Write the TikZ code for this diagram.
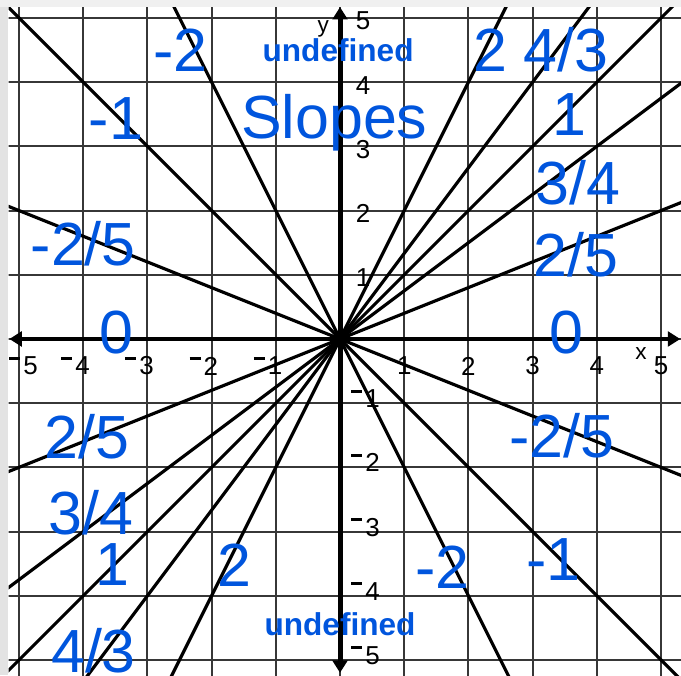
\documentclass[tikz,border=0pt]{standalone}
\usepackage{fontspec}
\setmainfont{Liberation Sans}
\usepackage{xcolor}
\usepackage{tikz}
\usetikzlibrary{arrows.meta}
\definecolor{slopeblue}{RGB}{0,85,221}
\definecolor{gridgray}{RGB}{55,55,55}
\tikzstyle{gridline} = [draw=gridgray, line width=0.9pt]
\tikzstyle{axis} = [draw, line width=2.2pt, {Triangle[width=6.5pt,length=5.5pt]}-{Triangle[width=6.5pt,length=5.5pt]}]
\tikzstyle{slopeline} = [draw, line width=1.4pt]
\tikzstyle{slopelabel} = [text=slopeblue, inner sep=0pt, font=\fontsize{27}{30}\selectfont]
\tikzstyle{undeflabel} = [text=slopeblue, inner sep=0pt, font=\fontsize{14}{16}\selectfont\bfseries]
\tikzstyle{ticklabel} = [inner sep=0pt, font=\fontsize{11.5}{12}\selectfont]
\newcommand{\tickneg}[1]{\rule[0.58em]{0.42em}{0.11em}\kern0.12em#1}

\begin{document}
\begin{tikzpicture}[x=1cm, y=1cm]
	% frame
	\useasboundingbox (-5.296,-5.234) rectangle (5.311,5.280);
	\fill[gray!22] (-5.296,-5.234) rectangle (-5.17,5.280);
	\fill[gray!12] (-5.296,5.17) rectangle (5.311,5.280);
	\begin{scope}
		\clip (-5.16,-5.234) rectangle (5.311,5.17);
		% grid
		\foreach \k in {-5,...,5} {
			\draw[gridline] (\k,-5.4) -- (\k,5.4);
			\draw[gridline] (-5.4,\k) -- (5.4,\k);
		}
		% lines through the origin
		\foreach \m in {2/5,3/4,1,4/3,2,-2/5,-1,-2}
			\draw[slopeline] (-6,{-6*(\m)}) -- (6,{6*(\m)});
	\end{scope}
	% axes
	\draw[axis] (-5.15,0) -- (5.30,0);
	\draw[axis] (0,-5.20) -- (0,5.17);
	\node[ticklabel, font=\fontsize{10}{12}\selectfont] (xname) at (4.69,-0.22) {x};
	\node[ticklabel, font=\fontsize{10}{12}\selectfont] (yname) at (-0.26,4.83) {y};
	% tick labels
	\foreach \k in {1,...,5} {
		\node[ticklabel] (xpos\k) at (\k,-0.42) {\k};
		\node[ticklabel] (ypos\k) at (0.36,\k-0.05) {\k};
		\node[ticklabel] (yneg\k) at (0.40,-\k+0.07) {\tickneg{\k}};
	}
	\foreach \k/\xx in {1/-1.12,2/-2.12,3/-3.12,4/-4.12,5/-4.93}
		\node[ticklabel] (xneg\k) at (\xx,-0.42) {\tickneg{\k}};

	% slope labels
	\node[undeflabel] (undefTop) at (-0.03,4.50) {undefined};
	\node[undeflabel] (undefBot) at (0,-4.45) {undefined};
	\node[slopelabel, anchor=base] (title) at (-0.09,3.12) {Slopes};

	\node[slopelabel] (ulTwo) at (-2.49,4.50) {-2};
	\node[slopelabel] (ulOne) at (-3.49,3.44) {-1};
	\node[slopelabel] (ulTwoFifths) at (-4.00,1.48) {-2/5};
	\node[slopelabel] (leftZero) at (-3.49,0.10) {0};

	\node[slopelabel] (urTwo) at (2.34,4.50) {2};
	\node[slopelabel] (urFourThirds) at (3.52,4.50) {4/3};
	\node[slopelabel] (urOne) at (3.57,3.49) {1};
	\node[slopelabel] (urThreeFourths) at (3.71,2.43) {3/4};
	\node[slopelabel] (urTwoFifths) at (3.68,1.32) {2/5};
	\node[slopelabel] (rightZero) at (3.52,0.10) {0};

	\node[slopelabel] (llTwoFifths) at (-3.94,-1.53) {2/5};
	\node[slopelabel] (llThreeFourths) at (-3.88,-2.71) {3/4};
	\node[slopelabel] (llOne) at (-3.55,-3.52) {1};
	\node[slopelabel] (llTwo) at (-1.65,-3.52) {2};
	\node[slopelabel, anchor=base] (llFourThirds) at (-3.84,-5.19) {4/3};

	\node[slopelabel] (lrTwoFifths) at (3.46,-1.50) {-2/5};
	\node[slopelabel] (lrTwo) at (1.60,-3.55) {-2};
	\node[slopelabel] (lrOne) at (3.32,-3.43) {-1};
\end{tikzpicture}
\end{document}
